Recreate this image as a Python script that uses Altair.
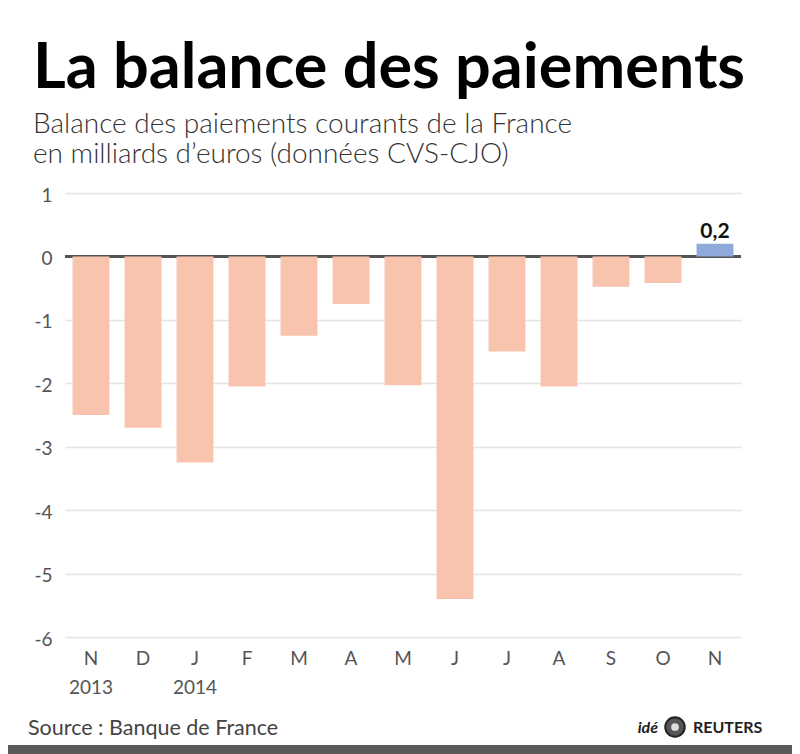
import altair as alt
import pandas as pd

months = ["N", "D", "J", "F", "M", "A", "M", "J", "J", "A", "S", "O", "N"]
years = ["2013", "", "2014", "", "", "", "", "", "", "", "", "", ""]
values = [-2.5, -2.7, -3.25, -2.05, -1.25, -0.75, -2.03, -5.4, -1.5, -2.05, -0.48, -0.42, 0.2]
value_labels = ["", "", "", "", "", "", "", "", "", "", "", "", "0,2"]
y_ticks = [-6, -5, -4, -3, -2, -1, 0, 1]

title_text = ["La balance des paiements"]
subtitle_1 = ["Balance des paiements courants de la France"]
subtitle_2 = ["en milliards d\u2019euros (donn\u00e9es CVS-CJO)"]
source_text = ["Source : Banque de France"]
brand_1 = ["id\u00e9"]
brand_2 = ["REUTERS"]

df = pd.DataFrame({
    "idx": list(range(len(months))),
    "value": values,
    "label": value_labels,
})
df["sign"] = ["pos" if v > 0 else "neg" for v in values]

parts = []
for m, yv in zip(months, years):
    if yv:
        parts.append("['%s','%s']" % (m, yv))
    else:
        parts.append("'%s'" % m)
label_expr = "[" + ",".join(parts) + "][datum.value]"

W, H = 676, 444
FONT = "Lato"

x_enc = alt.X(
    "idx:O",
    title=None,
    scale=alt.Scale(paddingInner=0.29, paddingOuter=0.145),
    axis=alt.Axis(
        labelExpr=label_expr, labelAngle=0, ticks=False, domain=False,
        labelPadding=12, labelFontSize=19, labelColor="#555555",
        labelFont=FONT, labelLineHeight=29, grid=False,
    ),
)
y_enc = alt.Y(
    "value:Q",
    title=None,
    scale=alt.Scale(domain=[-6, 1], nice=False, zero=True),
    axis=alt.Axis(
        values=y_ticks, grid=True, gridColor="#e4e4e4", gridWidth=1.5,
        domain=False, ticks=False, labelPadding=13, labelFontSize=19,
        labelColor="#555555", labelFont=FONT, labelExpr="datum.value",
        labelBaseline="middle", labelOffset=2,
    ),
)

base = alt.Chart(df)

zero = base.mark_rule(color="#555555", strokeWidth=2.5).encode(y=alt.datum(0))

bars = base.mark_bar().encode(
    x=x_enc,
    y=y_enc,
    color=alt.Color("sign:N", legend=None,
                    scale=alt.Scale(domain=["neg", "pos"], range=["#f9c4ae", "#8eaadb"])),
)

vlabels = base.mark_text(
    font=FONT, fontSize=21, fontWeight="bold", color="#111111",
    baseline="bottom", dy=-2,
).encode(x=alt.X("idx:O"), y=alt.Y("value:Q"), text="label:N")


def txt(data, x, y, **kw):
    return alt.Chart(pd.DataFrame({"t": data})).mark_text(
        align=kw.pop("align", "left"), baseline="alphabetic", **kw
    ).encode(text="t:N", x=alt.value(x), y=alt.value(y))


title = txt(title_text, -32, -105, font=FONT, fontSize=63, fontWeight="bold", color="#000000")
sub1 = txt(subtitle_1, -32, -60, font=FONT, fontSize=28, fontWeight=300, color="#333333")
sub2 = txt(subtitle_2, -32, -30, font=FONT, fontSize=28, fontWeight=300, color="#333333")
source = txt(source_text, -37, 542, font=FONT, fontSize=21.5, color="#444444")
b1 = txt(brand_1, 593, 540, font=FONT, fontSize=16, fontWeight="bold", fontStyle="italic",
         color="#222222", align="right")
b2 = txt(brand_2, 628, 540, font=FONT, fontSize=16, fontWeight="bold", color="#222222")

globe = alt.Chart(pd.DataFrame({"t": [1]})).mark_point(
    filled=True, shape="circle", size=380, color="#555555", opacity=1,
    stroke="#222222", strokeWidth=2,
).encode(x=alt.value(610), y=alt.value(534))
globe_in = alt.Chart(pd.DataFrame({"t": [1]})).mark_point(
    filled=True, shape="circle", size=60, color="#dddddd", opacity=1,
).encode(x=alt.value(610), y=alt.value(534))

border = alt.Chart(pd.DataFrame({"t": [1]})).mark_rect(
    color="#5a5a5a", opacity=1
).encode(x=alt.value(-57), x2=alt.value(W + 51), y=alt.value(552), y2=alt.value(561))

chart = alt.layer(
    zero, bars, vlabels, title, sub1, sub2, source, b1, b2, globe, globe_in, border
).properties(
    width=W, height=H,
    autosize="none",
    padding={"left": 57, "top": 185, "right": 51, "bottom": 117},
).configure(background="#ffffff").configure_view(stroke=None)

chart.save("out.html", embed_options={"renderer": "svg", "actions": False})
